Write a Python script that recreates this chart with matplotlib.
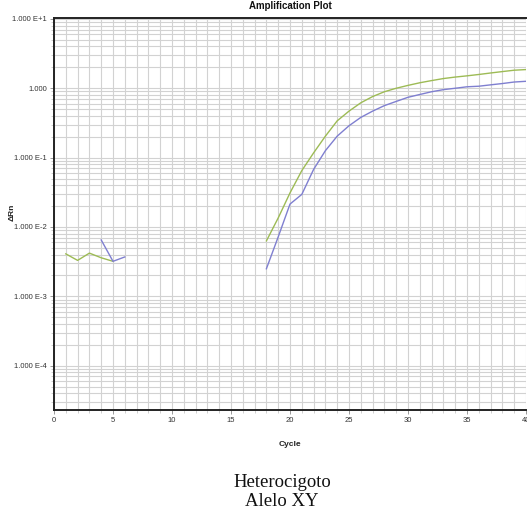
import numpy as np
import matplotlib
matplotlib.use("Agg")
import matplotlib.pyplot as plt
from matplotlib.ticker import FixedLocator, LogLocator, NullFormatter

nan = np.nan
cycles = np.arange(1, 41)

# Green series (Delta Rn per cycle); NaN where not plotted
green_rn = [0.0041, 0.0033, 0.0042, 0.0036, 0.0032] + [nan] * 12 + [
    0.0063, 0.0135, 0.031, 0.065, 0.117, 0.204, 0.339, 0.468, 0.617, 0.759,
    0.891, 1.00, 1.10, 1.20, 1.29, 1.38, 1.45, 1.51, 1.58, 1.66, 1.74, 1.82, 1.86]

# Blue series
blue_rn = [nan, nan, nan, 0.0065, 0.0032, 0.0037] + [nan] * 11 + [
    0.0025, 0.0072, 0.0214, 0.0295, 0.0676, 0.126, 0.204, 0.288, 0.380, 0.468,
    0.562, 0.646, 0.741, 0.813, 0.891, 0.955, 1.00, 1.05, 1.07, 1.12, 1.17, 1.23, 1.26]

y_ticks = [1e-4, 1e-3, 1e-2, 1e-1, 1, 10]
y_labels = ["1.000 E-4", "1.000 E-3", "1.000 E-2", "1.000 E-1", "1.000", "1.000 E+1"]
x_ticks = [0, 5, 10, 15, 20, 25, 30, 35, 40]

title = "Amplification Plot"
xlabel = "Cycle"
ylabel = "ΔRn"
caption = "Heterocigoto\nAlelo XY"

W, H = 527, 513
fig = plt.figure(figsize=(W / 100, H / 100), dpi=100)
ax = fig.add_axes([54 / W, 1 - 410 / H, (526 - 54) / W, (410 - 18) / H])

ax.set_yscale("log")
ax.set_xlim(0, 40)
ax.set_ylim(2.3e-5, 10.3)

grid_c = "#d2d2d2"
ax.set_xticks(x_ticks)
ax.xaxis.set_minor_locator(FixedLocator(np.arange(0, 41, 1)))
ax.set_yticks(y_ticks)
ax.set_yticklabels(y_labels)
ax.yaxis.set_minor_locator(LogLocator(base=10, subs=np.arange(2, 10)))
ax.yaxis.set_minor_formatter(NullFormatter())
ax.grid(True, which="both", color=grid_c, linewidth=0.8)
ax.set_axisbelow(True)

ax.plot(cycles, green_rn, color="#9dbb55", linewidth=1.0)
ax.plot(cycles, blue_rn, color="#7f7fd0", linewidth=1.0)

fam = ["Liberation Sans Narrow", "Liberation Sans", "DejaVu Sans"]
for lab in ax.get_xticklabels() + ax.get_yticklabels():
    lab.set_fontfamily(fam)
    lab.set_fontsize(5.5)
    lab.set_color("#333333")
ax.tick_params(which="major", length=3, width=0.6, color="#888888", pad=2)
ax.tick_params(which="minor", length=2, width=0.5, color="#bbbbbb")

for s in ["left", "bottom", "top"]:
    ax.spines[s].set_linewidth(1.4)
    ax.spines[s].set_color("#222222")
ax.spines["right"].set_visible(False)

fig.text(290 / W, 1 - 6 / H, title, ha="center", va="center", fontsize=7,
         fontweight="bold", family=fam, color="#111111")
fig.text(290 / W, 1 - 444 / H, xlabel, ha="center", va="center", fontsize=6,
         fontweight="bold", family=fam, color="#222222")
fig.text(12 / W, 1 - 212 / H, ylabel, ha="center", va="center", fontsize=6,
         fontweight="bold", family=fam, rotation=90, color="#222222")
fig.text(282 / W, 1 - 492 / H, caption, ha="center", va="center", fontsize=13.5,
         family=["Liberation Serif", "DejaVu Serif"], linespacing=1.15, color="#111111")

fig.savefig("out.png", dpi=100)
